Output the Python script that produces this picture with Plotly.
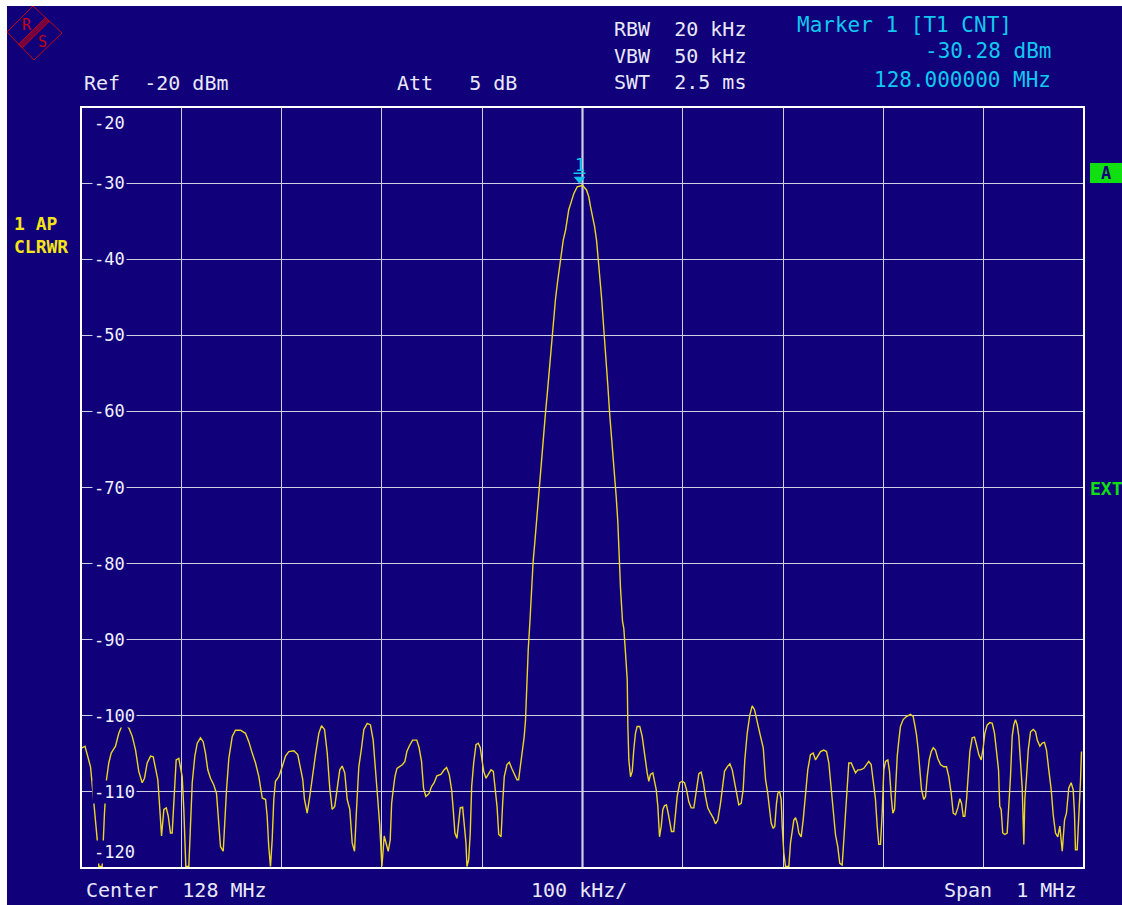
import plotly.graph_objects as go

# trace readout: frequency offset from 128 MHz centre (kHz) and level (dBm)
freq_khz = [
    -499, -496, -490.5, -487.2, -483.8, -482.2, -478.9, -476.6, -474.6, -472.3,
    -469.9, -465.6, -462.3, -458.9, -455.6, -452.3, -448.9, -445.6, -442.4, -439.0,
    -436.7, -434.0, -430.7, -428.0, -425.7, -423.4, -421.4, -419.7, -417.4, -415.0,
    -413.0, -410.8, -409.1, -407.5, -405.1, -402.5, -400.8, -399.1, -397.5, -395.5,
    -392.5, -390.8, -389.1, -386.5, -384.1, -380.9, -378.2, -375.9, -373.6, -370.9,
    -367.6, -364.9, -363.2, -360.9, -358.2, -356.6, -354.9, -352.6, -349.2, -346.0,
    -341.0, -336.0, -332.7, -329.3, -326.0, -322.7, -319.3, -316.0, -314.4, -312.8,
    -311.1, -309.4, -307.8, -306.1, -302.8, -299.4, -296.1, -292.8, -287.8, -283.9,
    -281.2, -278.9, -277.2, -274.5, -271.9, -269.5, -266.2, -262.9, -260.2, -257.2,
    -254.5, -252.0, -249.6, -247.0, -244.6, -242.0, -239.6, -237.0, -234.6, -232.0,
    -229.6, -227.3, -225.3, -223.0, -220.6, -218.0, -214.6, -211.4, -208.7, -206.4,
    -204.1, -202.1, -200.0, -197.7, -196.0, -193.7, -191.7, -190.3, -188.7, -187.0,
    -185.0, -182.7, -179.4, -177.1, -175.1, -172.8, -169.4, -165.2, -162.9, -160.5,
    -158.5, -156.2, -152.9, -150.5, -147.9, -145.2, -141.2, -137.9, -135.5, -132.9,
    -130.5, -128.9, -127.2, -125.2, -123.5, -121.9, -119.5, -117.9, -116.2, -115.2,
    -113.5, -111.9, -110.5, -108.5, -106.2, -103.9, -101.9, -100.2, -98.5, -96.2,
    -93.9, -91.2, -88.9, -87.2, -85.2, -83.5, -81.2, -79.6, -78.0, -75.3,
    -73.0, -70.6, -68.0, -65.3, -63.7, -62.1, -59.7, -58.1, -56.8, -55.8,
    -54.1, -52.5, -50.8, -49.2, -47.6, -45.9, -43.6, -41.9, -40.2, -38.6,
    -36.9, -35.2, -33.6, -31.9, -30.2, -28.6, -26.9, -24.6, -22.6, -20.9,
    -19.2, -16.9, -15.3, -13.7, -11.3, -8.7, -5.3, -2.0, 0.0, 4.0,
    6.3, 8.0, 10.0, 12.0, 14.0, 15.7, 17.2, 18.9, 20.6, 21.9,
    23.9, 25.2, 27.2, 28.9, 30.6, 31.9, 33.6, 35.2, 36.6, 37.9,
    39.9, 41.2, 42.9, 44.6, 45.2, 46.2, 47.9, 49.6, 51.1, 52.8,
    54.5, 57.1, 59.5, 61.1, 62.8, 64.5, 66.1, 67.8, 70.1, 71.8,
    73.5, 75.1, 76.8, 78.5, 80.1, 81.8, 83.7, 85.4, 87.0, 88.7,
    91.0, 92.7, 94.4, 97.0, 99.4, 101.7, 103.7, 106.0, 108.4, 111.0,
    113.7, 116.0, 118.3, 120.3, 122.6, 124.9, 127.6, 130.3, 132.6, 134.9,
    137.6, 139.3, 141.6, 144.3, 146.9, 149.3, 151.5, 153.5, 155.8, 158.2,
    160.2, 161.8, 164.2, 166.8, 169.2, 171.5, 174.2, 176.8, 180.2, 182.5,
    184.7, 186.4, 188.1, 190.1, 191.7, 193.4, 194.7, 196.4, 198.1, 199.1,
    200.7, 202.4, 205.7, 207.4, 209.1, 210.7, 212.4, 214.1, 215.7, 218.0,
    220.0, 222.3, 224.6, 227.3, 230.0, 232.3, 234.6, 237.3, 240.6, 243.3,
    245.6, 248.0, 250.0, 252.2, 254.5, 256.5, 258.9, 260.5, 262.2, 263.9,
    265.5, 267.9, 269.9, 272.2, 274.5, 277.2, 280.5, 283.1, 285.4, 287.8,
    289.8, 292.1, 293.8, 295.4, 297.1, 298.8, 300.4, 302.1, 304.4, 306.1,
    307.8, 309.4, 311.1, 312.4, 313.8, 315.4, 317.0, 319.7, 323.0, 327.0,
    329.7, 331.3, 333.0, 334.7, 336.3, 338.0, 340.3, 342.0, 343.7, 345.7,
    347.7, 349.7, 351.9, 354.2, 356.9, 360.2, 362.9, 365.2, 367.6, 369.6,
    371.9, 374.2, 376.2, 377.9, 379.6, 381.2, 382.9, 384.6, 386.2, 388.5,
    390.8, 392.8, 395.1, 397.5, 399.5, 401.1, 403.5, 406.1, 408.5, 410.8,
    412.8, 414.8, 416.0, 417.4, 419.0, 421.0, 423.4, 425.0, 426.7, 428.4,
    430.0, 431.7, 433.4, 435.0, 436.7, 438.4, 440.0, 441.0, 442.7, 444.4,
    446.7, 449.4, 451.7, 453.4, 456.0, 458.3, 460.6, 462.6, 464.9, 467.3,
    469.3, 471.6, 473.9, 475.9, 478.3, 480.6, 482.5, 484.8, 487.2, 489.2,
    490.5, 491.5, 493.2, 494.8, 496.5, 497.5,
]
level_dbm = [
    -104.2, -104.0, -106.7, -111.0, -116.3, -119.8, -119.8, -112.8, -108.4, -106.2,
    -104.9, -104.0, -102.3, -101.2, -101.1, -101.6, -102.7, -104.5, -107.3, -108.8,
    -108.2, -106.2, -105.3, -105.4, -106.7, -108.4, -112.3, -115.8, -112.3, -112.1,
    -113.2, -115.4, -115.4, -111.0, -105.8, -105.6, -106.7, -108.0, -112.3, -119.8,
    -119.8, -114.1, -108.8, -105.3, -103.6, -102.9, -103.4, -104.9, -107.1, -108.2,
    -109.1, -110.2, -113.7, -117.2, -117.8, -113.7, -109.7, -105.6, -102.7, -101.9,
    -101.9, -102.3, -103.4, -104.9, -106.2, -108.0, -110.8, -111.0, -113.2, -117.2,
    -119.8, -116.3, -111.0, -108.6, -108.0, -106.7, -105.3, -104.7, -104.6, -105.1,
    -106.7, -108.4, -111.0, -112.8, -110.6, -108.0, -105.1, -102.3, -101.3, -101.8,
    -104.9, -109.5, -112.3, -111.9, -109.3, -107.1, -106.6, -107.5, -111.0, -112.3,
    -116.7, -117.8, -112.3, -106.7, -104.5, -101.8, -101.0, -101.2, -103.2, -106.7,
    -111.0, -114.5, -119.8, -115.8, -116.7, -117.8, -116.3, -111.5, -109.7, -108.0,
    -106.9, -106.7, -106.4, -106.0, -104.7, -104.0, -103.2, -103.2, -104.2, -106.0,
    -109.5, -110.6, -110.2, -109.3, -108.8, -107.9, -107.7, -107.1, -106.8, -107.7,
    -109.7, -112.3, -115.4, -116.1, -114.1, -112.1, -112.0, -114.1, -116.7, -119.8,
    -118.9, -115.4, -109.3, -106.2, -103.8, -103.6, -104.2, -105.8, -107.3, -108.2,
    -107.7, -107.1, -107.3, -109.3, -111.9, -115.6, -115.9, -111.5, -108.0, -106.4,
    -106.1, -106.9, -107.7, -108.4, -108.4, -106.7, -104.5, -102.7, -100.5, -96.5,
    -91.3, -87.8, -82.8, -79.7, -77.3, -74.5, -70.7, -67.9, -65.3, -62.0,
    -60.2, -57.8, -55.4, -52.4, -50.0, -47.6, -45.2, -42.7, -40.5, -39.2,
    -37.5, -36.2, -34.6, -33.5, -32.5, -31.4, -30.5, -30.35, -30.28, -30.9,
    -31.8, -33.1, -34.2, -35.7, -37.5, -39.7, -42.3, -44.9, -47.8, -50.2,
    -53.2, -56.5, -60.5, -63.3, -65.9, -67.7, -71.2, -74.5, -79.3, -83.2,
    -87.6, -88.5, -91.8, -95.3, -101.2, -105.8, -108.0, -107.3, -104.5, -102.3,
    -101.4, -101.4, -102.7, -104.5, -105.8, -107.5, -108.6, -107.7, -107.5, -108.6,
    -109.7, -111.9, -115.9, -114.5, -112.3, -111.8, -111.7, -112.8, -114.3, -115.2,
    -115.2, -112.8, -110.6, -108.8, -108.6, -108.8, -109.7, -111.3, -112.1, -112.1,
    -109.7, -107.6, -107.4, -108.6, -110.6, -112.1, -112.8, -113.4, -114.2, -113.7,
    -111.5, -109.7, -107.3, -106.7, -106.3, -107.1, -108.8, -110.2, -111.7, -111.5,
    -109.7, -105.8, -102.3, -99.9, -98.7, -99.2, -101.0, -102.3, -104.2, -108.4,
    -110.2, -111.9, -114.1, -114.8, -114.5, -111.5, -110.2, -109.9, -111.0, -114.5,
    -118.0, -119.8, -119.8, -116.7, -115.0, -113.7, -113.4, -114.1, -115.4, -115.9,
    -113.7, -110.6, -107.1, -105.1, -104.9, -105.8, -105.3, -104.7, -104.5, -104.7,
    -106.2, -109.7, -113.2, -115.6, -117.2, -119.4, -119.6, -116.3, -111.5, -108.0,
    -106.2, -106.2, -106.9, -107.5, -107.1, -107.1, -106.9, -106.4, -106.0, -106.4,
    -108.4, -111.0, -114.5, -116.9, -116.9, -112.8, -107.1, -106.0, -105.8, -107.3,
    -110.6, -112.8, -112.3, -108.4, -105.3, -103.2, -101.4, -100.5, -100.1, -99.8,
    -100.1, -101.2, -102.5, -104.5, -106.7, -109.7, -111.0, -110.6, -108.0, -105.8,
    -104.7, -104.2, -104.5, -105.6, -106.4, -106.7, -106.7, -108.0, -110.2, -112.8,
    -113.0, -112.1, -110.9, -111.5, -113.2, -113.2, -111.0, -108.0, -104.7, -102.9,
    -102.8, -103.8, -105.1, -105.8, -104.2, -102.3, -101.2, -100.9, -101.0, -102.3,
    -104.5, -107.1, -111.9, -112.3, -115.4, -115.6, -115.4, -112.3, -108.0, -102.7,
    -101.2, -100.5, -101.2, -102.7, -106.2, -109.5, -116.9, -111.0, -108.0, -104.5,
    -102.1, -101.8, -102.1, -103.2, -104.0, -103.6, -103.5, -104.5, -107.1, -109.7,
    -113.0, -115.4, -115.9, -114.5, -117.8, -113.7, -112.8, -109.5, -108.8, -109.7,
    -112.8, -117.6, -117.6, -113.7, -108.6, -104.7,
]

# marker 1 readout
marker_freq_khz = [0.0]
marker_level_dbm = [-30.28]

y_tick_values = [-20, -30, -40, -50, -60, -70, -80, -90, -100, -110, -120]
y_tick_labels = ["-20", "-30", "-40", "-50", "-60", "-70", "-80", "-90", "-100", "-110", "-120"]

header_white = [("Ref  -20 dBm", 82, 83), ("Att   5 dB", 395, 83),
                ("RBW  20 kHz", 612, 29), ("VBW  50 kHz", 612, 56), ("SWT  2.5 ms", 612, 82)]

BG = "#10007a"
GRID = "#d0d0e4"
TRACE = "#ecd624"
CYAN = "#10c8f0"
YELLOW = "#f4e418"
GREEN = "#10e010"
MONO = "DejaVu Sans Mono"

W, H = 1122, 905
# plot frame in pixels
L, R, T, B = 81, 1084, 107, 868


def fx(px):
    return (px - L) / (R - L)


def fy(py):
    return (B - py) / (B - T)


def paper_path(points, close=True):
    s = " ".join(("M" if i == 0 else "L") + " %.5f,%.5f" % (fx(x), fy(y)) for i, (x, y) in enumerate(points))
    return s + (" Z" if close else "")


fig = go.Figure()
fig.add_trace(go.Scatter(x=freq_khz, y=level_dbm, mode="lines",
                         line=dict(color=TRACE, width=1.4), hoverinfo="skip"))

shapes = [
    # white strip along the top and left of the screen shot
    dict(type="rect", xref="paper", yref="paper", x0=fx(-2), x1=fx(7), y0=fy(H + 2), y1=fy(-2),
         fillcolor="white", line_width=0, layer="above"),
    dict(type="rect", xref="paper", yref="paper", x0=fx(-2), x1=fx(W + 2), y0=fy(6), y1=fy(-2),
         fillcolor="white", line_width=0, layer="above"),
    # centre line and frame
    dict(type="line", xref="x", yref="paper", x0=0, x1=0, y0=0, y1=1,
         line=dict(color="#f4f4ff", width=2), layer="below"),
    dict(type="rect", xref="paper", yref="paper", x0=0, x1=1, y0=0, y1=1,
         line=dict(color="white", width=2)),
    # R&S logo
    dict(type="path", xref="paper", yref="paper",
         path=paper_path([(7, 32), (33, 6), (62, 33), (34, 60)]),
         line=dict(color="#c80010", width=1)),
    dict(type="path", xref="paper", yref="paper",
         path=paper_path([(45.7, 17.7), (49.3, 21.3), (22.3, 47.8), (18.7, 44.2)]),
         fillcolor="rgba(200,0,16,0.55)", line=dict(color="#c80010", width=1)),
    # "A" box
    dict(type="rect", xref="paper", yref="paper", x0=fx(1090), x1=fx(1124), y0=fy(183), y1=fy(163),
         fillcolor=GREEN, line_width=0),
    # marker triangle
    dict(type="path", xref="x", yref="y", xsizemode="pixel", ysizemode="pixel",
         xanchor=marker_freq_khz[0], yanchor=marker_level_dbm[0],
         path="M -8,8 L 2,8 L -3,2 Z", fillcolor=CYAN, line=dict(color=CYAN, width=1)),
    dict(type="path", xref="x", yref="y", xsizemode="pixel", ysizemode="pixel",
         xanchor=marker_freq_khz[0], yanchor=marker_level_dbm[0],
         path="M -9,12 L 3,12", line=dict(color=CYAN, width=1.5)),
]

annotations = []


def txt(text, x, y, color="#e8e8f8", size=20, anchor="left", bold=False, **kw):
    if bold:
        text = "<b>" + text + "</b>"
    annotations.append(dict(text=text, x=fx(x), y=fy(y), xref="paper", yref="paper",
                            xanchor=anchor, yanchor="middle", showarrow=False,
                            font=dict(family=MONO, size=size, color=color), **kw))


for text, x, y in header_white:
    txt(text, x, y)
txt("Marker 1 [T1 CNT]", 795, 25, color=CYAN, size=21)
txt("-30.28 dBm", 1053, 51, color=CYAN, size=21, anchor="right")
txt("128.000000 MHz", 1053, 80, color=CYAN, size=21, anchor="right")
txt("Center  128 MHz", 84, 890)
txt("100 kHz/", 579, 890, anchor="center")
txt("Span  1 MHz", 1078, 890, anchor="right")
txt("1 AP", 12, 223, color=YELLOW, size=18, bold=True)
txt("CLRWR", 12, 247, color=YELLOW, size=18, bold=True)
txt("A", 1106, 173, color=BG, size=17, anchor="center", bold=True)
txt("EXT", 1088, 488, color=GREEN, size=18, bold=True)
txt("R", 27, 25, color="#c80010", size=15, anchor="center")
txt("S", 42, 42, color="#c80010", size=15, anchor="center")

for v, lab in zip(y_tick_values, y_tick_labels):
    shift = -16 if v == y_tick_values[0] else (16 if v == y_tick_values[-1] else 0)
    annotations.append(dict(text=lab, x=fx(92), y=v, xref="paper", yref="y",
                            xanchor="left", yanchor="middle", yshift=shift, showarrow=False,
                            bgcolor=BG, borderpad=1,
                            font=dict(family=MONO, size=17, color="#f0f0ff")))

annotations.append(dict(text="1", x=marker_freq_khz[0], y=marker_level_dbm[0], xref="x", yref="y",
                        xshift=-3, yshift=20, showarrow=False,
                        font=dict(family=MONO, size=17, color=CYAN)))

fig.update_layout(
    width=W, height=H,
    margin=dict(l=L, r=W - R, t=T, b=H - B, pad=0),
    paper_bgcolor=BG, plot_bgcolor=BG,
    showlegend=False,
    shapes=shapes, annotations=annotations,
    xaxis=dict(range=[-500, 500], tick0=0, dtick=100, showgrid=True, gridcolor=GRID, gridwidth=1,
               zeroline=False, showticklabels=False, ticks="", showline=False, fixedrange=True),
    yaxis=dict(range=[-120, -20], tick0=-20, dtick=10, showgrid=True, gridcolor=GRID, gridwidth=1,
               zeroline=False, showticklabels=False, ticks="", showline=False, fixedrange=True),
)

# page without body margin or scroll bars, so the figure fills the window
fig.write_html("out.html", config={"displayModeBar": False}, post_script=(
    "document.documentElement.style.overflow='hidden';"
    "document.body.style.margin='0';document.body.style.overflow='hidden';"))
